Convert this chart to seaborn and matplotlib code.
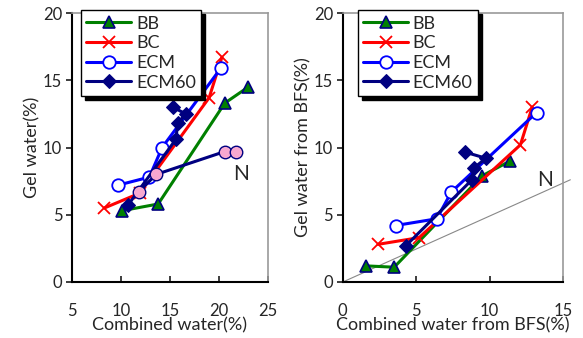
import matplotlib
matplotlib.use("Agg")
import matplotlib.pyplot as plt
import seaborn as sns
import pandas as pd

sns.set_theme(style="white")
plt.rcParams['font.family'] = ['Lato', 'DejaVu Sans']

series_names = ["BB", "BC", "ECM", "ECM60"]
colors = {"BB": "#008000", "BC": "#FF0000", "ECM": "#0000FF", "ECM60": "#000080"}

# Left panel: Combined water(%) vs Gel water(%)
left_x = {
    "BB": [10.1, 13.8, 20.6, 23.0],
    "BC": [8.3, 11.9, 19.0, 20.3],
    "ECM": [9.7, 12.9, 14.2, 20.2],
    "ECM60": [10.7, 15.6, 15.8, 16.6, 15.3],
}
left_y = {
    "BB": [5.3, 5.8, 13.3, 14.5],
    "BC": [5.5, 6.6, 13.7, 16.7],
    "ECM": [7.2, 7.8, 10.0, 15.9],
    "ECM60": [5.7, 10.6, 11.8, 12.5, 13.0],
}
n_x = [11.8, 13.6, 20.6, 21.7]
n_y = [6.7, 8.0, 9.7, 9.7]

# Right panel: from BFS
right_x = {
    "BB": [1.55, 3.5, 9.5, 11.4],
    "BC": [2.4, 5.2, 12.1, 12.9],
    "ECM": [3.6, 6.4, 7.4, 13.2],
    "ECM60": [4.3, 8.8, 8.95, 9.75, 8.35],
}
right_y = {
    "BB": [1.2, 1.1, 7.9, 9.0],
    "BC": [2.8, 3.3, 10.2, 13.0],
    "ECM": [4.2, 4.7, 6.7, 12.6],
    "ECM60": [2.7, 7.6, 8.5, 9.2, 9.65],
}
n_line_x = [0.0, 15.5]
n_line_y = [0.0, 7.6]

markers = {"BB": "^", "BC": "x", "ECM": "o", "ECM60": "D"}

fig = plt.figure(figsize=(5.83, 3.38), dpi=100)
ax1 = fig.add_axes([0.1235, 0.1657, 0.336, 0.7958])
ax2 = fig.add_axes([0.588, 0.1657, 0.3777, 0.7958])


def draw(ax, xs, ys):
    for name in series_names:
        df = pd.DataFrame({"x": xs[name], "y": ys[name]})
        c = colors[name]
        kw = dict(color=c, linewidth=2.2, marker=markers[name], markersize=8.5, label=name)
        if name == "BB":
            kw.update(markerfacecolor="#008000", markeredgecolor="#000080", markeredgewidth=1.2)
        elif name == "BC":
            kw.update(markeredgecolor=c, markeredgewidth=1.3, markersize=8)
        elif name == "ECM":
            kw.update(markerfacecolor="white", markeredgecolor=c, markeredgewidth=1.3, markersize=9)
        else:
            kw.update(markerfacecolor=c, markeredgecolor=c, markersize=7)
        sns.lineplot(data=df, x="x", y="y", ax=ax, sort=False, estimator=None, **kw)


def style(ax, xlim, xticks, xlabel, ylabel, legx):
    ax.set_xlim(*xlim)
    ax.set_ylim(0, 20)
    ax.set_xticks(xticks)
    ax.set_yticks([0, 5, 10, 15, 20])
    ax.set_xlabel(xlabel, fontsize=13, labelpad=-1)
    ax.set_ylabel(ylabel, fontsize=13, labelpad=2)
    ax.tick_params(axis="x", direction="in", length=4, pad=15, labelsize=12, bottom=True)
    ax.tick_params(axis="y", direction="out", length=4, pad=3, labelsize=12, left=True)
    for s in ["left", "bottom"]:
        ax.spines[s].set_color("black")
        ax.spines[s].set_linewidth(1.5)
    for s in ["top", "right"]:
        ax.spines[s].set_color("#999999")
        ax.spines[s].set_linewidth(1.2)
    leg = ax.legend(loc="upper left", bbox_to_anchor=(legx, 1.01), fontsize=13,
                    frameon=True, fancybox=False, shadow={"color": "black", "alpha": 1, "ox": 3, "oy": -3},
                    handlelength=2.5, borderpad=0.3, labelspacing=0.2, handletextpad=0.25,
                    borderaxespad=0.0)
    leg.get_frame().set_edgecolor("black")
    leg.get_frame().set_linewidth(1.0)
    leg.get_frame().set_alpha(1)


draw(ax1, left_x, left_y)
ndf = pd.DataFrame({"x": n_x, "y": n_y})
sns.lineplot(data=ndf, x="x", y="y", ax=ax1, sort=False, estimator=None, color="#000080",
             linewidth=2.2, marker="o", markersize=9, markerfacecolor="#F7A8D0",
             markeredgecolor="#000080", markeredgewidth=1.0, zorder=3)
ax1.text(22.3, 8.05, "N", fontsize=15, ha="center", va="center")
style(ax1, (5, 25), [5, 10, 15, 20, 25], "Combined water(%)", "Gel water(%)", 0.045)

nl = pd.DataFrame({"x": n_line_x, "y": n_line_y})
sns.lineplot(data=nl, x="x", y="y", ax=ax2, color="#888888", linewidth=0.8, estimator=None,
             sort=False, clip_on=False, zorder=1)
draw(ax2, right_x, right_y)
ax2.text(13.8, 7.6, "N", fontsize=15, ha="center", va="center")
style(ax2, (0, 15), [0, 5, 10, 15], "Combined water from BFS(%)", "Gel water from BFS(%)", 0.068)

fig.savefig("out.png", dpi=100)
